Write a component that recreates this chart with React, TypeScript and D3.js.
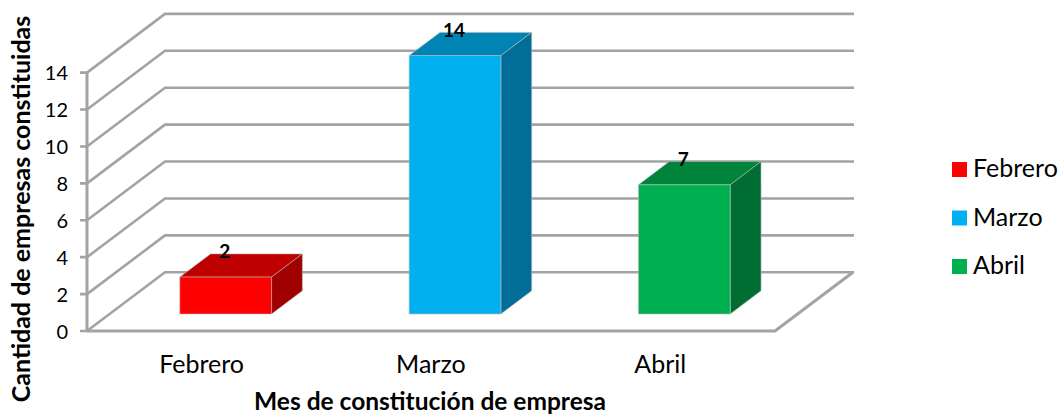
import * as d3 from "d3";

const categories = ["Febrero", "Marzo", "Abril"];
const values = [2, 14, 7];
const frontColors = ["#ff0000", "#00b0f0", "#00b050"];
const topColors = ["#bf0000", "#0084b4", "#00843c"];
const sideColors = ["#a00000", "#006e96", "#006e32"];
const yTicks = [0, 2, 4, 6, 8, 10, 12, 14];

const FONT = "Lato, 'Open Sans', sans-serif";
const GRID = "#a3a3a3";

// oblique offset from the front of the floor to the back wall
const depthX = 78;
const depthY = -58.7;
// bars stand between these fractions of the floor depth
const barNear = 0.29;
const barFar = 0.685;

const x = d3.scaleBand().domain(categories).range([88.4, 776.4]).paddingInner(0.6).paddingOuter(0.3);
const y = d3.scaleLinear().domain([0, 14]).range([331, 72.6]);

const poly = d3.line();

export default function App() {
  const floorLeft: [number, number] = [87, y(0)];
  const floorRight: [number, number] = [775, y(0)];
  const back = (p: [number, number], t = 1): [number, number] => [p[0] + depthX * t, p[1] + depthY * t];

  return (
    <svg width={1060} height={416} style={{ position: "absolute", left: 0, top: 0, background: "#fff" }}>
      {/* walls */}
      {yTicks.map((t) => {
        const a: [number, number] = [87, y(t)];
        const b = back(a);
        return (
          <g key={t}>
            <path d={poly([[80, y(t)], a, b, [854, b[1]]])!} fill="none" stroke={GRID} strokeWidth={2.6} />
            <text x={68} y={y(t)} dy="0.38em" textAnchor="end" fontFamily={FONT} fontSize={20} fill="#000">
              {t}
            </text>
          </g>
        );
      })}
      <line x1={87} x2={87} y1={y(14)} y2={y(0)} stroke={GRID} strokeWidth={3} />
      {/* floor */}
      <path
        d={poly([floorLeft, floorRight, back(floorRight)])!}
        fill="none"
        stroke={GRID}
        strokeWidth={3}
      />

      {/* bars */}
      {categories.map((c, i) => {
        const x0 = x(c)! + depthX * barNear;
        const x1 = x0 + x.bandwidth();
        const yBase = y(0) + depthY * barNear;
        const yTop = y(values[i]) + depthY * barNear;
        const d = barFar - barNear;
        const front: [number, number][] = [[x0, yBase], [x1, yBase], [x1, yTop], [x0, yTop]];
        const top: [number, number][] = [[x0, yTop], [x1, yTop], back([x1, yTop], d), back([x0, yTop], d)];
        const side: [number, number][] = [[x1, yBase], back([x1, yBase], d), back([x1, yTop], d), [x1, yTop]];
        return (
          <g key={c}>
            <path d={poly(top)! + "Z"} fill={topColors[i]} stroke="#b5b5b5" strokeWidth={0.6} />
            <path d={poly(side)! + "Z"} fill={sideColors[i]} stroke="#b5b5b5" strokeWidth={0.6} />
            <path d={poly(front)! + "Z"} fill={frontColors[i]} stroke="#b5b5b5" strokeWidth={0.6} />
            <text
              x={(x0 + x1) / 2 - 1}
              y={yTop + depthY * d}
              dy="0.22em"
              textAnchor="middle"
              fontFamily={FONT}
              fontSize={19}
              fontWeight="bold"
              fill="#000"
            >
              {values[i]}
            </text>
          </g>
        );
      })}

      {/* category labels */}
      {categories.map((c) => (
        <text
          key={c}
          x={x(c)! + x.bandwidth() / 2 - 1.5}
          y={373}
          textAnchor="middle"
          fontFamily={FONT}
          fontSize={25}
          fill="#000"
        >
          {c}
        </text>
      ))}

      <text x={430} y={410} textAnchor="middle" fontFamily={FONT} fontSize={24.5} fontWeight="bold" fill="#000">
        Mes de constitución de empresa
      </text>
      <text
        transform="translate(30,209) rotate(-90)"
        textAnchor="middle"
        fontFamily={FONT}
        fontSize={25}
        fontWeight="bold"
        fill="#000"
      >
        Cantidad de empresas constituidas
      </text>

      {/* legend */}
      {categories.map((c, i) => (
        <g key={c} transform={`translate(952,${162 + i * 48.5})`}>
          <rect width={15} height={15} fill={frontColors[i]} />
          <text x={21} y={15} fontFamily={FONT} fontSize={25} fill="#000">
            {c}
          </text>
        </g>
      ))}
    </svg>
  );
}
